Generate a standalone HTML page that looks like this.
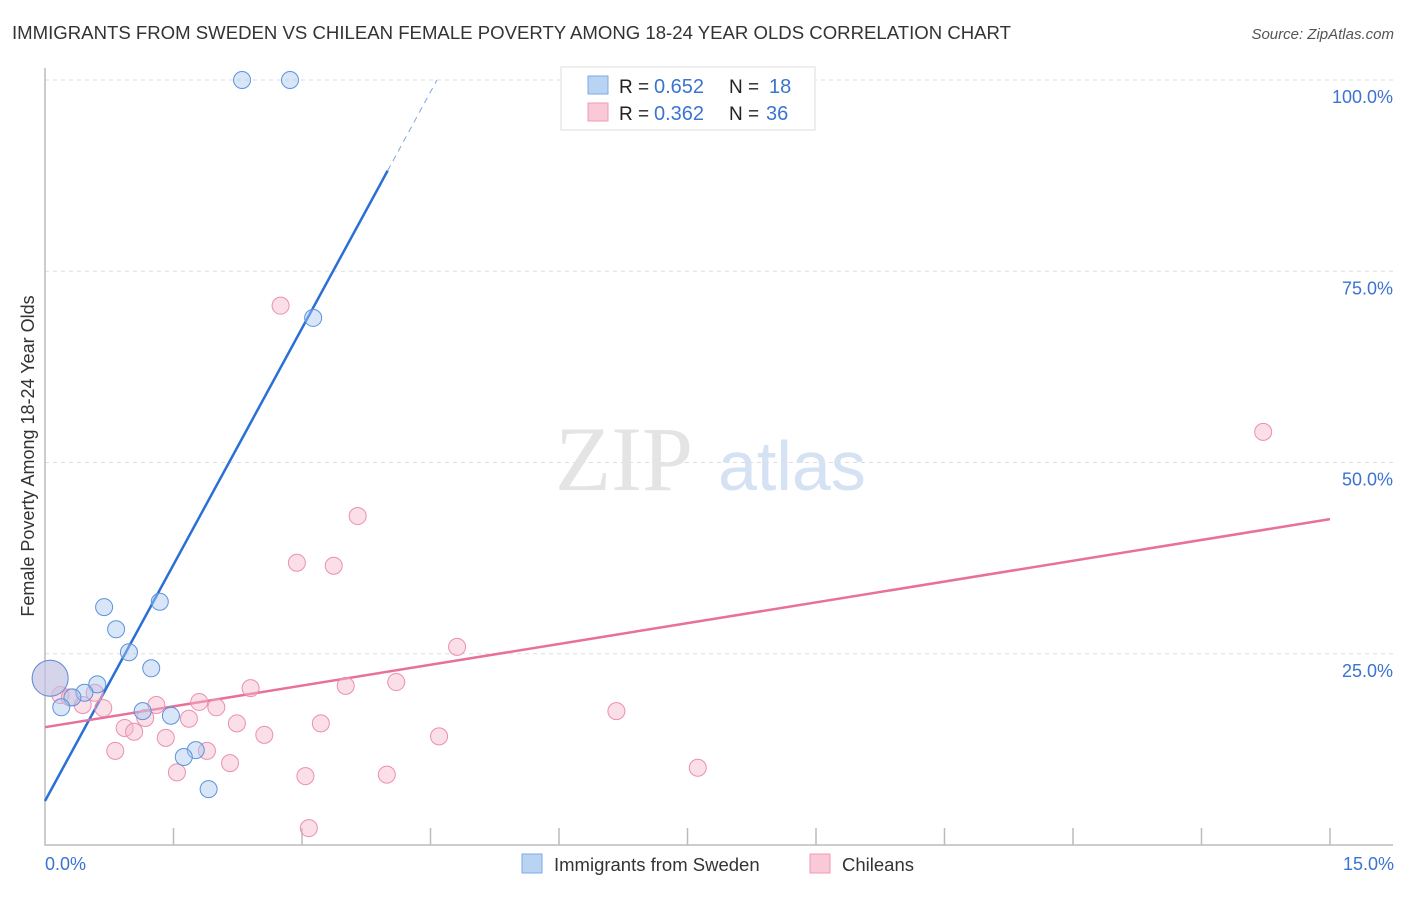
<!DOCTYPE html>
<html><head><meta charset="utf-8"><style>
body{margin:0;background:#fff;font-family:"Liberation Sans",sans-serif}
svg text{font-family:"Liberation Sans",sans-serif}
</style></head><body>
<svg width="1406" height="892">
<text x="12" y="39" font-size="18" fill="#333" textLength="999" lengthAdjust="spacingAndGlyphs">IMMIGRANTS FROM SWEDEN VS CHILEAN FEMALE POVERTY AMONG 18-24 YEAR OLDS CORRELATION CHART</text>
<text x="1394" y="39" font-size="15" fill="#555" font-style="italic" text-anchor="end">Source: ZipAtlas.com</text>
<g id="grid"></g>
<text x="555" y="490" font-size="92" fill="#e4e4e4" style="font-family:'Liberation Serif',serif">ZIP</text>
<text x="718" y="490" font-size="70" fill="#d5e2f4">atlas</text>
<text transform="translate(34,456) rotate(-90)" font-size="18" fill="#333" text-anchor="middle">Female Poverty Among 18-24 Year Olds</text>
<g id="lines"></g>
<g id="pts"></g>
<g>
<rect x="561" y="67" width="254" height="63" fill="#fff" stroke="#ddd"/>
<rect x="588" y="76" width="20" height="18" fill="#b9d3f3" stroke="#7eaae6"/>
<rect x="588" y="103" width="20" height="18" fill="#fac9d8" stroke="#f09ab5"/>
<text x="619" y="93" font-size="19" fill="#222">R =</text>
<text x="654" y="93" font-size="20" fill="#3b73d1">0.652</text>
<text x="729" y="93" font-size="19" fill="#222">N =</text>
<text x="769" y="93" font-size="20" fill="#3b73d1">18</text>
<text x="619" y="120" font-size="19" fill="#222">R =</text>
<text x="654" y="120" font-size="20" fill="#3b73d1">0.362</text>
<text x="729" y="120" font-size="19" fill="#222">N =</text>
<text x="766" y="120" font-size="20" fill="#3b73d1">36</text>
</g>
<g>
<rect x="522" y="854" width="20" height="19" fill="#b9d3f3" stroke="#7eaae6"/>
<text x="554" y="871" font-size="18.5" fill="#333">Immigrants from Sweden</text>
<rect x="810" y="854" width="20" height="19" fill="#fac9d8" stroke="#f09ab5"/>
<text x="842" y="871" font-size="18.5" fill="#333">Chileans</text>
</g>
<text x="45" y="870" font-size="18" fill="#3b73d1">0.0%</text>
<text x="1394" y="870" font-size="18" fill="#3b73d1" text-anchor="end">15.0%</text>
</svg>
<script>
const yTicks=[100,75,50,25];
const yTickLabels=["100.0%","75.0%","50.0%","25.0%"];
const blueX=[2.30,2.86,3.13,0.69,0.83,1.34,0.98,1.24,0.61,0.46,0.32,0.19,1.14,1.47,1.76,1.62,1.91,0.06];
const blueY=[100,100,68.9,31.1,28.2,31.8,25.2,23.1,21.0,19.9,19.3,18.0,17.5,16.9,12.4,11.5,7.3,21.8];
const pinkX=[2.75,14.22,3.65,2.94,3.37,4.81,4.10,3.51,2.40,1.80,1.30,0.68,0.44,0.18,0.58,1.68,2.00,2.24,3.22,1.17,0.93,1.04,1.41,2.56,4.60,6.67,0.82,1.89,2.16,1.54,3.04,3.99,7.62,3.08,0.06,0.29];
const pinkY=[70.5,54.0,43.0,36.9,36.5,25.9,21.3,20.8,20.5,18.7,18.3,17.9,18.3,19.6,19.9,16.5,18.0,15.9,15.9,16.6,15.3,14.8,14.0,14.4,14.2,17.5,12.3,12.3,10.7,9.5,9.0,9.2,10.1,2.2,21.8,19.3];
const blueTrend=[5.75,20.6];
const pinkTrend=[15.4,1.813];
const X=v=>45+v/15*1285, Y=v=>845-v*7.65;
const NS="http://www.w3.org/2000/svg";
function mk(t,a,p){const e=document.createElementNS(NS,t);for(const k in a)e.setAttribute(k,a[k]);p.appendChild(e);return e;}
const grid=document.getElementById('grid');
yTicks.forEach((t,i)=>{
 const l=mk('line',{x1:45,x2:1393,y1:Y(t),y2:Y(t),stroke:'#ddd','stroke-dasharray':'4,4'},grid);
 
 
 const tx=mk('text',{x:1393,y:Y(t)+23,'font-size':18,fill:'#3b73d1','text-anchor':'end'},grid);
 tx.textContent=yTickLabels[i];
 
 
});
const ax=mk('path',{d:'M45,68V845H1393',fill:'none',stroke:'#bbb','stroke-width':1.5},grid);


for(let i=1;i<=10;i++){const t=mk('line',{x1:X(i*1.5),x2:X(i*1.5),y1:828,y2:845,stroke:'#bbb','stroke-width':1.5},grid);
 
 }
const lines=document.getElementById('lines');
const bx1=4.0, bx2=(100-blueTrend[0])/blueTrend[1];
const b1=mk('line',{x1:X(0),y1:Y(blueTrend[0]),x2:X(bx1),y2:Y(blueTrend[0]+blueTrend[1]*bx1),stroke:'#2a6fd6','stroke-width':2.5},lines);


const b2=mk('line',{x1:X(bx1),y1:Y(blueTrend[0]+blueTrend[1]*bx1),x2:X(bx2),y2:Y(100),stroke:'#7ea6e0','stroke-width':1,'stroke-dasharray':'6,5'},lines);


const p1=mk('line',{x1:X(0),y1:Y(pinkTrend[0]),x2:X(15),y2:Y(pinkTrend[0]+pinkTrend[1]*15),stroke:'#e8709a','stroke-width':2.5},lines);


const pts=document.getElementById('pts');
function dots(xs,ys,fill,stroke,name){xs.forEach((x,i)=>{const big=x<0.1;
 const c=mk('circle',{cx:X(x),cy:Y(ys[i]),r:big?18:8.5,fill,stroke,'stroke-width':1,'fill-opacity':0.45},pts);
 
 });}
dots(pinkX,pinkY,'#f7b8cc','#ec8fae','chileans-point');
dots(blueX,blueY,'#a9c8f0','#5b93dd','sweden-point');
</script>
</body></html>
